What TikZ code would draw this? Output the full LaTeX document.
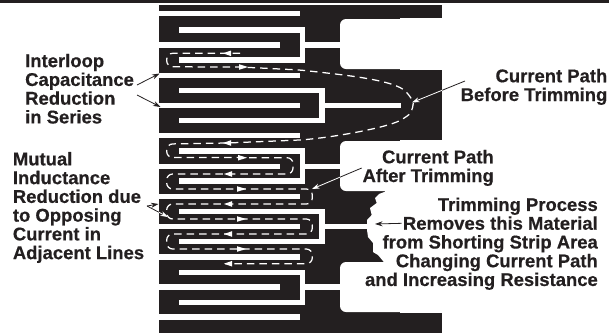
\documentclass[tikz,border=0pt]{standalone}
\usepackage{fontspec}
\setmainfont{Liberation Sans}[BoldFeatures={FakeBold=0.5}]
\usetikzlibrary{arrows.meta}
\definecolor{ink}{HTML}{231F20}
\tikzset{
  lab/.style={font=\fontsize{18.45}{18.75}\selectfont\bfseries,text=ink,inner sep=0pt},
  labl/.style={lab,align=left,anchor=north west},
  labr/.style={lab,align=right,anchor=north east},
  cond/.style={fill=white,draw=none},
  pad/.style={fill=white,draw=none,rounded corners=6pt},
  cur/.style={white,line width=1.25pt,dash pattern=on 7.5pt off 5pt},
  ptr/.style={line width=0.8pt,-{Stealth[length=7.5pt,width=5pt]}}
}
\newcommand{\larr}[2]{\fill[white] (#1,#2) -- ++(8,-2.8) -- ++(0,5.6) -- cycle;}
\newcommand{\rarr}[2]{\fill[white] (#1,#2) -- ++(-9,-2.8) -- ++(0,5.6) -- cycle;}
\newcommand{\wline}[3]{\fill[cond] (#1,#3-2.7) rectangle (#2,#3+2.7);}
\begin{document}
\begin{tikzpicture}[x=1pt,y=-1pt]
\useasboundingbox (0,0) rectangle (609,333);
% top rule and black block
\fill[ink] (0,0) rectangle (609,2.6);
\fill[ink] (159,5) rectangle (442,333);
% pads
\fill[pad] (340,19) -- (444,19) -- (444,69) -- (340,69) -- cycle;
\fill[white] (400,18) rectangle (443,70);
\fill[pad] (340,141) -- (444,141) -- (444,191) -- (340,191) -- cycle;
\fill[white] (400,140) rectangle (443,192);
\fill[pad] (340,262) -- (444,262) -- (444,312) -- (340,312) -- cycle;
\fill[white] (400,261) rectangle (443,313);
% trimmed edge
\fill[white] (443,190) -- (385,190) -- (385,191.7) -- (379,194) -- (375,198) -- (376.7,203) -- (370,208) -- (371.7,215) -- (367,220) -- (367,230) -- (368,237) -- (373,243) -- (373,252) -- (378,255) -- (383,261) -- (385,263) -- (443,263) -- cycle;
% comb 1
\wline{159}{300}{13.2}
\wline{179}{305}{30}
\wline{179}{305}{60}
\fill[cond] (299.5,27.3) rectangle (305,62.7);
\wline{159}{280}{45}
\wline{305}{345}{45}
\wline{159}{300}{75.2}
% comb 2
\wline{179}{325}{90.5}
\wline{179}{325}{120.5}
\fill[cond] (319.3,87.8) rectangle (325,123.2);
\wline{159}{300}{105.5}
\wline{319}{400.7}{105.5}
\wline{159}{300}{135.5}
% comb 3
\wline{179}{305}{151}
\wline{179}{305}{181}
\fill[cond] (299.5,148.3) rectangle (305,183.7);
\wline{159}{280}{166.5}
\wline{305}{345}{166.5}
\wline{159}{300}{196.2}
% comb 4
\wline{179}{325}{211.7}
\wline{179}{325}{241.7}
\fill[cond] (319.3,209) rectangle (325,244.4);
\wline{159}{300}{226.5}
\wline{319}{372}{226.5}
\wline{159}{300}{256.8}
% comb 5
\wline{179}{305}{272.2}
\wline{179}{305}{302.2}
\fill[cond] (299.5,269.5) rectangle (305,304.9);
\wline{159}{280}{287}
\wline{305}{345}{287}
\wline{159}{300}{317}
% current path
\draw[cur,rounded corners=6pt] (240,53.3) -- (166.7,53.3) -- (166.7,66.8) -- (240,67) -- (300,70)
  .. controls (345,75) and (395,80) .. (410,96)
  .. controls (414,103) and (412,112) .. (405,118)
  .. controls (385,128) and (335,137) .. (300,140)
  -- (227,143) -- (166.7,144) -- (166.7,157.5) -- (293,157.7) -- (293,174) -- (166.7,174)
  -- (166.7,189) -- (312.3,189) -- (312.3,204) -- (166.7,204) -- (166.7,219) -- (312.3,219)
  -- (312.3,234) -- (166.7,234) -- (166.7,249) -- (312.3,249) -- (312.3,263.7) -- (225,263.7);
\foreach \x/\y in {223/53.3,223/143,224/174,224/204,224/234,224/263.7}{\larr{\x}{\y}}
\foreach \x/\y in {248/67,247/157.7,246/189,246/219,246/249}{\rarr{\x}{\y}}
% labels
\node[labl] (interloop) at (25,53.6) {Interloop\\Capacitance\\Reduction\\in Series};
\node[labl] (mutual) at (12.7,151.8) {Mutual\\Inductance\\Reduction due\\to Opposing\\Current in\\Adjacent Lines};
\node[labr] (before) at (607.5,68.7) {Current Path\\Before Trimming};
\node[labr] (after) at (494,149.7) {Current Path\\After Trimming};
\node[labr] (trim) at (598,197.4) {Trimming Process\\Removes this Material\\from Shorting Strip Area\\Changing Current Path\\and Increasing Resistance};
% connector ends
\coordinate (i0a) at (137,85); \coordinate (i1) at (159.5,73.5);
\coordinate (i0b) at (137,95); \coordinate (i2) at (160.5,107);
\coordinate (m0) at (147,206); \coordinate (m1) at (158.5,204); \coordinate (m2) at (168,217);
\coordinate (b0) at (465,81); \coordinate (b1) at (412,102.5);
\coordinate (a0) at (361.7,168); \coordinate (a1) at (312,189);
\coordinate (t0) at (401.7,223.3); \coordinate (t1) at (375,224);
% connectors
\draw[ptr,ink] (i0a) -- (i1);
\draw[ptr,ink] (i0b) -- (i2);
\draw[ptr,ink] (m0) -- (m1);
\draw[ptr,ink] (m0) -- (m2);
\begin{scope}\clip (159,190) rectangle (200,240); \draw[ptr,white] (m0) -- (m2); \end{scope}
\draw[ptr,ink] (b0) -- (b1);
\begin{scope}\clip (400,60) rectangle (442,120); \draw[ptr,white] (b0) -- (b1); \end{scope}
\draw[ptr,ink] (a0) -- (a1);
\begin{scope}\clip (300,160) rectangle (340,200); \draw[ptr,white] (a0) -- (a1); \end{scope}
\draw[ptr,ink] (t0) -- (t1);
\end{tikzpicture}
\end{document}
